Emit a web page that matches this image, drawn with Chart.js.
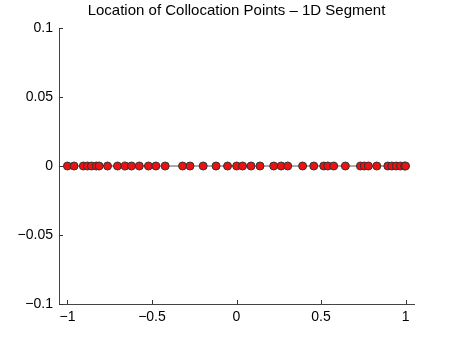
<!DOCTYPE html>
<html>
<head>
<meta charset="utf-8">
<script src="https://cdn.jsdelivr.net/npm/chart.js@4/dist/chart.umd.min.js"></script>
<style>
  html, body { margin: 0; padding: 0; background: #fff; }
  #wrap { width: 457px; height: 343px; }
</style>
</head>
<body>
<div id="wrap"><canvas id="c" width="457" height="343"></canvas></div>
<script>
// ---- data ----
const titleText = "Location of Collocation Points \u2013 1D Segment";
const pointX = [
  -1.000, -0.961, -0.906, -0.882, -0.858, -0.829, -0.813, -0.763, -0.704, -0.659,
  -0.621, -0.575, -0.521, -0.477, -0.422, -0.319, -0.275, -0.197, -0.121, -0.053,
   0.001,  0.036,  0.086,  0.139,  0.220,  0.264,  0.303,  0.391,  0.457,  0.516,
   0.540,  0.575,  0.644,  0.733,  0.756,  0.780,  0.830,  0.895,  0.919,  0.945,
   0.970,  0.994,  1.000
];
const pointY = pointX.map(() => 0);
const xTicks = [-1, -0.5, 0, 0.5, 1];
const yTicks = [-0.1, -0.05, 0, 0.05, 0.1];

const fmt = v => {
  const s = String(Math.abs(v));
  return (v < 0 ? "\u2212" : "") + s;
};

const innerTicks = {
  id: 'innerTicks',
  afterDraw(chart) {
    const ctx = chart.ctx, xs = chart.scales.x, ys = chart.scales.y;
    const area = chart.chartArea;
    ctx.save();
    ctx.strokeStyle = '#333';
    ctx.lineWidth = 1;
    ctx.beginPath();
    xTicks.forEach(v => {
      const px = Math.round(xs.getPixelForValue(v)) + 0.5;
      ctx.moveTo(px, area.bottom);
      ctx.lineTo(px, area.bottom - 4);
    });
    yTicks.forEach(v => {
      const py = Math.round(ys.getPixelForValue(v)) + 0.5;
      ctx.moveTo(area.left, py);
      ctx.lineTo(area.left + 4, py);
    });
    ctx.stroke();
    ctx.restore();
  }
};

new Chart(document.getElementById('c'), {
  type: 'scatter',
  data: {
    datasets: [{
      data: pointX.map((x, i) => ({ x: x, y: pointY[i] })),
      showLine: true,
      borderColor: '#555555',
      borderWidth: 1,
      backgroundColor: '#ee1111',
      pointBackgroundColor: '#ee1111',
      pointBorderColor: '#333333',
      pointBorderWidth: 1,
      pointRadius: 4,
      pointHoverRadius: 4
    }]
  },
  options: {
    responsive: false,
    animation: false,
    events: [],
    layout: { padding: { left: 0, right: 43, top: 0, bottom: 0 } },
    plugins: {
      legend: { display: false },
      tooltip: { enabled: false },
      title: {
        display: true,
        fullSize: false,
        align: 'center',
        text: titleText,
        color: '#000',
        font: { family: 'Liberation Sans, Arial, sans-serif', size: 15, weight: 'normal', lineHeight: 1.2 },
        padding: { top: 2, bottom: 8 }
      }
    },
    scales: {
      x: {
        type: 'linear',
        min: -1.05,
        max: 1.05,
        afterBuildTicks: s => { s.ticks = xTicks.map(v => ({ value: v })); },
        afterFit: s => { s.height = 39; },
        grid: { display: false, drawTicks: false },
        border: { display: true, color: '#444', width: 1 },
        ticks: {
          color: '#000',
          padding: 5,
          maxRotation: 0,
          font: { family: 'Liberation Sans, Arial, sans-serif', size: 14 },
          callback: v => fmt(v)
        }
      },
      y: {
        type: 'linear',
        min: -0.1,
        max: 0.1,
        afterBuildTicks: s => { s.ticks = yTicks.map(v => ({ value: v })); },
        afterFit: s => { s.width = 59; },
        grid: { display: false, drawTicks: false },
        border: { display: true, color: '#444', width: 1 },
        ticks: {
          color: '#000',
          padding: 6,
          font: { family: 'Liberation Sans, Arial, sans-serif', size: 14 },
          callback: v => fmt(v)
        }
      }
    }
  },
  plugins: [innerTicks]
});
</script>
</body>
</html>
